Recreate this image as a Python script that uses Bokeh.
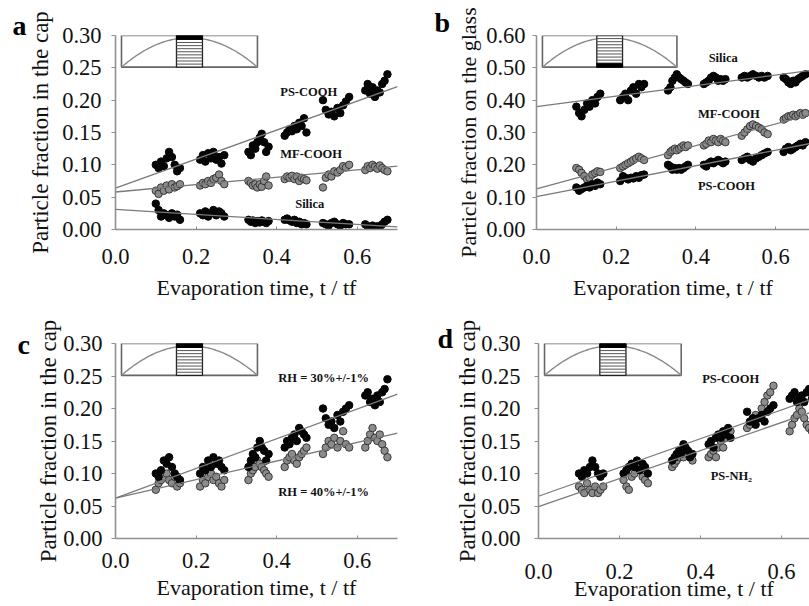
import numpy as np
from bokeh.plotting import figure
from bokeh.models import Range1d, FixedTicker, NumeralTickFormatter, Label
from bokeh.layouts import row, column
from bokeh.embed import file_html
from bokeh.resources import INLINE

# ---------------- data ----------------
# evaporation time t/tf : six measurement windows, 10 samples each
T = [0.100, 0.107, 0.113, 0.120, 0.127, 0.133, 0.140, 0.147, 0.153, 0.160,
     0.210, 0.217, 0.223, 0.230, 0.237, 0.243, 0.250, 0.257, 0.263, 0.270,
     0.330, 0.336, 0.341, 0.347, 0.352, 0.358, 0.363, 0.369, 0.374, 0.380,
     0.420, 0.426, 0.432, 0.438, 0.444, 0.450, 0.456, 0.462, 0.468, 0.474,
     0.515, 0.522, 0.529, 0.536, 0.543, 0.551, 0.558, 0.565, 0.572, 0.580,
     0.620, 0.626, 0.632, 0.638, 0.644, 0.650, 0.656, 0.662, 0.668, 0.675]

# panel a : particle fraction in the cap
a_ps_cooh = [0.100, 0.095, 0.105, 0.098, 0.110, 0.120, 0.112, 0.100, 0.090, 0.095,
             0.108, 0.115, 0.105, 0.118, 0.110, 0.120, 0.108, 0.112, 0.102, 0.115,
             0.120, 0.115, 0.130, 0.125, 0.135, 0.142, 0.148, 0.135, 0.120, 0.128,
             0.145, 0.150, 0.155, 0.152, 0.160, 0.155, 0.165, 0.160, 0.172, 0.150,
             0.200, 0.185, 0.178, 0.182, 0.175, 0.188, 0.180, 0.192, 0.198, 0.205,
             0.215, 0.225, 0.210, 0.220, 0.205, 0.215, 0.212, 0.225, 0.230, 0.240]
a_mf_cooh = [0.060, 0.055, 0.065, 0.060, 0.068, 0.062, 0.070, 0.065, 0.067, 0.070,
             0.068, 0.072, 0.070, 0.075, 0.072, 0.078, 0.080, 0.085, 0.075, 0.070,
             0.075, 0.072, 0.068, 0.070, 0.065, 0.070, 0.066, 0.075, 0.082, 0.068,
             0.078, 0.082, 0.080, 0.083, 0.078, 0.082, 0.075, 0.080, 0.078, 0.076,
             0.065, 0.080, 0.085, 0.082, 0.090, 0.088, 0.092, 0.098, 0.096, 0.100,
             0.092, 0.098, 0.095, 0.100, 0.097, 0.094, 0.099, 0.095, 0.092, 0.090]
a_silica = [0.040, 0.030, 0.020, 0.025, 0.022, 0.018, 0.025, 0.020, 0.023, 0.015,
            0.025, 0.022, 0.028, 0.020, 0.025, 0.030, 0.022, 0.028, 0.025, 0.020,
            0.015, 0.012, 0.014, 0.010, 0.013, 0.011, 0.014, 0.012, 0.010, 0.013,
            0.015, 0.017, 0.014, 0.012, 0.015, 0.010, 0.012, 0.008, 0.010, 0.008,
            0.010, 0.008, 0.006, 0.010, 0.012, 0.008, 0.006, 0.010, 0.008, 0.008,
            0.008, 0.005, 0.004, 0.006, 0.003, 0.005, 0.004, 0.008, 0.012, 0.015]

# panel b : particle fraction on the glass
b_silica = [0.380, 0.360, 0.350, 0.370, 0.390, 0.380, 0.400, 0.390, 0.410, 0.420,
            0.400, 0.410, 0.420, 0.400, 0.430, 0.440, 0.420, 0.450, 0.440, 0.450,
            0.430, 0.440, 0.460, 0.470, 0.480, 0.470, 0.465, 0.460, 0.455, 0.450,
            0.450, 0.455, 0.460, 0.470, 0.475, 0.470, 0.460, 0.465, 0.460, 0.465,
            0.470, 0.475, 0.470, 0.475, 0.480, 0.475, 0.470, 0.475, 0.470, 0.475,
            0.470, 0.465, 0.455, 0.450, 0.460, 0.455, 0.465, 0.470, 0.475, 0.480]
b_mf_cooh = [0.190, 0.185, 0.175, 0.165, 0.155, 0.160, 0.170, 0.175, 0.180, 0.178,
             0.190, 0.195, 0.200, 0.205, 0.210, 0.215, 0.220, 0.225, 0.220, 0.215,
             0.230, 0.240, 0.245, 0.250, 0.245, 0.250, 0.255, 0.260, 0.255, 0.260,
             0.260, 0.265, 0.275, 0.270, 0.280, 0.275, 0.270, 0.280, 0.275, 0.270,
             0.290, 0.300, 0.310, 0.320, 0.325, 0.320, 0.315, 0.310, 0.300, 0.295,
             0.340, 0.345, 0.350, 0.350, 0.355, 0.350, 0.355, 0.360, 0.355, 0.360]
b_ps_cooh = [0.130, 0.120, 0.125, 0.130, 0.135, 0.130, 0.140, 0.135, 0.145, 0.140,
             0.150, 0.165, 0.160, 0.155, 0.160, 0.158, 0.165, 0.160, 0.168, 0.170,
             0.200, 0.195, 0.185, 0.190, 0.185, 0.190, 0.185, 0.190, 0.195, 0.200,
             0.200, 0.195, 0.205, 0.210, 0.205, 0.210, 0.215, 0.210, 0.205, 0.210,
             0.215, 0.220, 0.225, 0.215, 0.210, 0.220, 0.225, 0.230, 0.235, 0.240,
             0.240, 0.250, 0.255, 0.245, 0.250, 0.255, 0.260, 0.265, 0.260, 0.270]

# panel c : particle fraction in the cap, two humidities (PS-COOH)
c_rh30 = [0.100, 0.095, 0.105, 0.120, 0.115, 0.125, 0.110, 0.100, 0.095, 0.090,
          0.100, 0.110, 0.105, 0.120, 0.110, 0.125, 0.115, 0.120, 0.110, 0.105,
          0.110, 0.120, 0.130, 0.125, 0.140, 0.150, 0.140, 0.135, 0.120, 0.130,
          0.140, 0.150, 0.145, 0.155, 0.160, 0.150, 0.170, 0.165, 0.160, 0.155,
          0.200, 0.185, 0.175, 0.180, 0.170, 0.190, 0.180, 0.195, 0.200, 0.205,
          0.220, 0.225, 0.210, 0.215, 0.205, 0.220, 0.210, 0.225, 0.230, 0.245]
c_rh40 = [0.075, 0.085, 0.090, 0.095, 0.100, 0.090, 0.085, 0.095, 0.080, 0.085,
          0.080, 0.090, 0.085, 0.095, 0.100, 0.090, 0.095, 0.085, 0.080, 0.090,
          0.090, 0.100, 0.105, 0.110, 0.120, 0.115, 0.110, 0.105, 0.100, 0.095,
          0.110, 0.120, 0.125, 0.130, 0.120, 0.115, 0.125, 0.130, 0.135, 0.140,
          0.130, 0.140, 0.150, 0.145, 0.155, 0.140, 0.150, 0.165, 0.145, 0.140,
          0.140, 0.150, 0.160, 0.170, 0.155, 0.150, 0.160, 0.145, 0.135, 0.125]

# panel d : particle fraction in the cap, PS-COOH vs PS-NH2
d_ps_cooh = [0.100, 0.095, 0.105, 0.100, 0.110, 0.120, 0.110, 0.100, 0.095, 0.100,
             0.100, 0.105, 0.110, 0.115, 0.110, 0.120, 0.105, 0.115, 0.110, 0.100,
             0.120, 0.125, 0.130, 0.135, 0.130, 0.145, 0.140, 0.135, 0.125, 0.130,
             0.145, 0.150, 0.140, 0.155, 0.160, 0.155, 0.165, 0.160, 0.170, 0.155,
             0.195, 0.180, 0.185, 0.175, 0.185, 0.190, 0.180, 0.195, 0.200, 0.205,
             0.215, 0.220, 0.225, 0.210, 0.215, 0.220, 0.210, 0.225, 0.230, 0.215]
d_ps_nh2 = [0.080, 0.075, 0.070, 0.085, 0.075, 0.070, 0.080, 0.070, 0.075, 0.080,
            0.090, 0.080, 0.075, 0.095, 0.100, 0.110, 0.105, 0.095, 0.090, 0.085,
            0.110, 0.115, 0.120, 0.125, 0.130, 0.125, 0.135, 0.130, 0.125, 0.120,
            0.125, 0.130, 0.135, 0.125, 0.140, 0.150, 0.140, 0.155, 0.160, 0.165,
            0.170, 0.175, 0.180, 0.190, 0.185, 0.200, 0.210, 0.220, 0.225, 0.235,
            0.165, 0.175, 0.185, 0.190, 0.200, 0.195, 0.185, 0.175, 0.170, 0.165]

# linear fits (value at t=0 and at t=0.7)
FIT_X = [0.0, 0.7]
a_fit_ps_cooh = [0.064, 0.221]
a_fit_mf_cooh = [0.058, 0.098]
a_fit_silica = [0.031, 0.004]
b_fit_silica = [0.380, 0.494]
b_fit_mf_cooh = [0.126, 0.360]
b_fit_ps_cooh = [0.102, 0.269]
c_fit_rh30 = [0.062, 0.222]
c_fit_rh40 = [0.062, 0.162]
d_fit_ps_cooh = [0.065, 0.220]
d_fit_ps_nh2 = [0.049, 0.200]

X_TICKS = [0.0, 0.2, 0.4, 0.6]
Y_TICKS_CAP = [0.00, 0.05, 0.10, 0.15, 0.20, 0.25, 0.30]
Y_TICKS_GLASS = [0.00, 0.10, 0.20, 0.30, 0.40, 0.50, 0.60]

SERIF = "Liberation Serif"
AXIS_GRAY = "#8f8f8f"
FIT_GRAY = "#7a7a7a"


def make_fig(width, height, xend, ymax, yticks, ylabel, ylabel_size,
             bl, br, bt, bb, x_std, xl_std, y_std, yl_std,
             letter, l_off, l_std):
    p = figure(width=width, height=height, x_range=Range1d(0, xend),
               y_range=Range1d(0, ymax), output_backend="svg",
               toolbar_location=None, min_border_left=bl, min_border_right=br,
               min_border_top=bt, min_border_bottom=bb)
    p.xgrid.visible = False
    p.ygrid.visible = False
    p.outline_line_color = None
    p.background_fill_color = "white"
    p.border_fill_color = "white"
    p.xaxis.ticker = FixedTicker(ticks=X_TICKS)
    p.yaxis.ticker = FixedTicker(ticks=yticks)
    p.xaxis.formatter = NumeralTickFormatter(format="0.0")
    p.yaxis.formatter = NumeralTickFormatter(format="0.00")
    p.xaxis.axis_label = "Evaporation time, t / tf"
    p.yaxis.axis_label = ylabel
    for ax in (p.xaxis[0], p.yaxis[0]):
        ax.axis_line_color = AXIS_GRAY
        ax.axis_line_width = 1.6
        ax.major_tick_line_color = AXIS_GRAY
        ax.minor_tick_line_color = None
        ax.major_label_text_font = SERIF
        ax.major_label_text_font_size = "22.5px"
        ax.major_label_text_color = "#111111"
        ax.axis_label_text_font = SERIF
        ax.axis_label_text_font_style = "normal"
        ax.axis_label_text_color = "#111111"
    p.xaxis.major_tick_in = 3
    p.xaxis.major_tick_out = 0
    p.yaxis.major_tick_in = 0
    p.yaxis.major_tick_out = 4
    p.xaxis.axis_label_text_font_size = "22px"
    p.yaxis.axis_label_text_font_size = ylabel_size
    p.xaxis.major_label_standoff = x_std
    p.xaxis.axis_label_standoff = xl_std
    p.yaxis.major_label_standoff = y_std
    p.yaxis.axis_label_standoff = yl_std
    # panel letter
    p.title.text = letter
    p.title.text_font = SERIF
    p.title.text_font_size = "28px"
    p.title.text_font_style = "bold"
    p.title.text_color = "#000000"
    p.title.align = "left"
    p.title.offset = l_off
    p.title.standoff = l_std
    return p


def inset(p, ymax, band_top=True):
    sx = 1.0 / 403.0
    sy = ymax / 196.0
    x0, x1 = 6 * sx, 142 * sx
    y1 = ymax
    y0 = ymax - 32 * sy
    p.quad(left=x0, right=x1, bottom=y0, top=y1, fill_color="white",
           line_color="#666666", line_width=1.6)
    xm, half = (x0 + x1) / 2, (x1 - x0) / 2
    xs = np.linspace(x0, x1, 80)
    ys = y0 + (y1 - y0) * 0.93 * (1 - ((xs - xm) / half) ** 2)
    p.line(xs, ys, color="#8a8a8a", line_width=1.4)
    s0, s1 = 61 * sx, 87 * sx
    p.quad(left=s0, right=s1, bottom=y0, top=y1, fill_color="white",
           line_color="#222222", line_width=1.3)
    band = 4 * sy
    if band_top:
        lines = np.linspace(y0, y1 - band, 10)[1:-1]
        p.quad(left=s0, right=s1, bottom=y1 - band, top=y1, fill_color="black",
               line_color="black")
    else:
        lines = np.linspace(y0 + band, y1, 10)[1:-1]
        p.quad(left=s0, right=s1, bottom=y0, top=y0 + band, fill_color="black",
               line_color="black")
    p.segment(x0=[s0] * len(lines), x1=[s1] * len(lines), y0=lines, y1=lines,
              color="#555555", line_width=1)


def black_pts(p, y):
    p.scatter(T, y, size=7.5, fill_color="#050505", line_color="#050505")


def gray_pts(p, y):
    p.scatter(T, y, size=7.5, fill_color="#8c8c8c", line_color="#2e2e2e",
              line_width=0.9)


def fit(p, y):
    p.line(FIT_X, y, color=FIT_GRAY, line_width=1.3)


def tag(p, x, y, text):
    p.add_layout(Label(x=x, y=y, text=text, text_font=SERIF,
                       text_font_size="12.5px", text_font_style="bold",
                       text_align="left", text_baseline="middle",
                       text_color="#111111"))


# ---------------- panel a ----------------
pa = make_fig(420, 304, 0.7, 0.30, Y_TICKS_CAP, "Particle fraction in the cap", "23px",
              115, 23, 33, 75, 19, 8, 10, 6, "a", -103, -11)
inset(pa, 0.30, band_top=True)
gray_pts(pa, a_mf_cooh)
black_pts(pa, a_ps_cooh)
black_pts(pa, a_silica)
fit(pa, a_fit_ps_cooh)
fit(pa, a_fit_mf_cooh)
fit(pa, a_fit_silica)
tag(pa, 0.409, 0.213, "PS-COOH")
tag(pa, 0.409, 0.116, "MF-COOH")
tag(pa, 0.446, 0.039, "Silica")

# ---------------- panel b ----------------
pb = make_fig(389, 304, 0.685, 0.60, Y_TICKS_GLASS, "Particle fraction on the glass", "22px",
              116, 0, 35, 75, 19, 8, 7, 2, "b", -102, -4)
inset(pb, 0.60, band_top=False)
black_pts(pb, b_silica)
gray_pts(pb, b_mf_cooh)
black_pts(pb, b_ps_cooh)
fit(pb, b_fit_silica)
fit(pb, b_fit_mf_cooh)
fit(pb, b_fit_ps_cooh)
tag(pb, 0.432, 0.531, "Silica")
tag(pb, 0.405, 0.358, "MF-COOH")
tag(pb, 0.405, 0.136, "PS-COOH")

# ---------------- panel c ----------------
pc = make_fig(420, 302, 0.7, 0.30, Y_TICKS_CAP, "Particle fraction in the cap", "23px",
              115, 23, 39, 67, 14, 4, 9, -1, "c", -98, -32)
inset(pc, 0.30, band_top=True)
gray_pts(pc, c_rh40)
black_pts(pc, c_rh30)
fit(pc, c_fit_rh30)
fit(pc, c_fit_rh40)
tag(pc, 0.404, 0.2475, "RH = 30%+/-1%")
tag(pc, 0.404, 0.071, "RH = 40%+/-1%")

# ---------------- panel d ----------------
pd = make_fig(389, 302, 0.669, 0.30, Y_TICKS_CAP, "Particle fraction in the cap", "23px",
              118, 0, 37, 68, 25, -6, 14, -2, "d", -101, -21)
inset(pd, 0.30, band_top=True)
gray_pts(pd, d_ps_nh2)
black_pts(pd, d_ps_cooh)
fit(pd, d_fit_ps_cooh)
fit(pd, d_fit_ps_nh2)
tag(pd, 0.404, 0.245, "PS-COOH")
tag(pd, 0.425, 0.096, "PS-NH\u2082")

layout = column(row(pa, pb), row(pc, pd))
open("out.html", "w").write(file_html(layout, INLINE))
